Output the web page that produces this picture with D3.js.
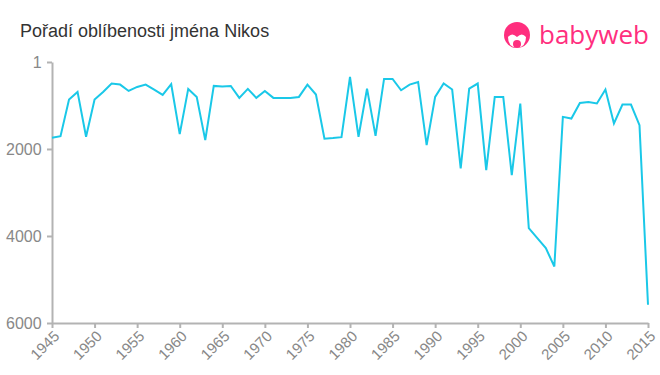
<!DOCTYPE html>
<html>
<head>
<meta charset="utf-8">
<script src="https://cdn.jsdelivr.net/npm/d3@7"></script>
<style>
  body { margin: 0; background: #fff; font-family: "Liberation Sans", Arial, sans-serif; }
</style>
</head>
<body>
<div id="chart"></div>
<script>
// chart data
var years = d3.range(1945, 2016);
var ranks = [1740, 1705, 863, 689, 1720, 863, 689, 496, 520, 666,
             574, 520, 634, 758, 512, 1659, 620, 804, 1796, 551,
             565, 551, 826, 620, 826, 666, 826, 826, 826, 804,
             520, 749, 1766, 1750, 1728, 345, 1720, 612, 1698, 390,
             390, 650, 520, 460, 1911, 804, 496, 634, 2445, 612,
             496, 2484, 804, 804, 2599, 955, 3821, 4051, 4280, 4702,
             1262, 1300, 941, 918, 955, 634, 1414, 980, 980, 1453,
             5580];
var yTicks = [1, 2000, 4000, 6000];
var xTicks = d3.range(1945, 2016, 5);

var svgWidth = 660, svgHeight = 375;
var margin = {top: 62, right: 12, bottom: 52, left: 52};
var width = svgWidth - margin.left - margin.right;
var height = svgHeight - margin.top - margin.bottom;

var svg = d3.select("#chart").append("svg")
  .attr("width", svgWidth)
  .attr("height", svgHeight);

// title
svg.append("text")
  .attr("x", 20).attr("y", 37)
  .attr("fill", "#333")
  .style("font-size", "18px")
  .text("Pořadí oblíbenosti jména Nikos");

// logo
var logo = svg.append("g").attr("transform", "translate(517, 35)");
logo.append("circle").attr("r", 13).attr("fill", "#ff2e7e");
logo.append("path")
  .attr("d", "M-9,2 Q-9,12 0,13 Q9,12 9,2 Q5,-3 0,2 Q-5,-3 -9,2 Z")
  .attr("fill", "#fff");
logo.append("circle").attr("cy", 9).attr("r", 4).attr("fill", "#ff2e7e");
svg.append("text")
  .attr("x", 539).attr("y", 44)
  .attr("fill", "#ff2e7e")
  .style("font-size", "26px")
  .style("font-family", "'Open Sans', sans-serif")
  .style("font-weight", "500")
  .text("babyweb");

var chartGroup = svg.append("g")
  .attr("transform", `translate(${margin.left}, ${margin.top})`);

var xScale = d3.scaleLinear().domain([1945, 2015]).range([0, width]);
var yScale = d3.scaleLinear().domain([1, 6000]).range([0, height]);

// axes
var xAxis = chartGroup.append("g")
  .attr("transform", `translate(0, ${height})`)
  .call(d3.axisBottom(xScale).tickValues(xTicks).tickFormat(d3.format("d")).tickSize(5).tickSizeOuter(0));
xAxis.selectAll("text")
  .attr("text-anchor", "end")
  .attr("dx", "-0.3em").attr("dy", "0.5em")
  .attr("transform", "rotate(-45)");

var yAxis = chartGroup.append("g")
  .call(d3.axisLeft(yScale).tickValues(yTicks).tickFormat(d3.format("d")).tickSize(5).tickSizeOuter(0));
yAxis.selectAll("text").attr("dx", "-0.15em");

svg.selectAll(".domain, .tick line").attr("stroke", "#b3b3b3").attr("stroke-width", 2);
svg.selectAll(".tick text")
  .attr("fill", "#888")
  .style("font-family", "'Liberation Sans', Arial, sans-serif");
xAxis.selectAll("text").style("font-size", "15px");
yAxis.selectAll("text").style("font-size", "16px");

// line
var line = d3.line()
  .x((d, i) => xScale(years[i]))
  .y(d => yScale(d));

chartGroup.append("path")
  .datum(ranks)
  .attr("fill", "none")
  .attr("stroke", "#1ac8e8")
  .attr("stroke-width", 2)
  .attr("d", line);
</script>
</body>
</html>
